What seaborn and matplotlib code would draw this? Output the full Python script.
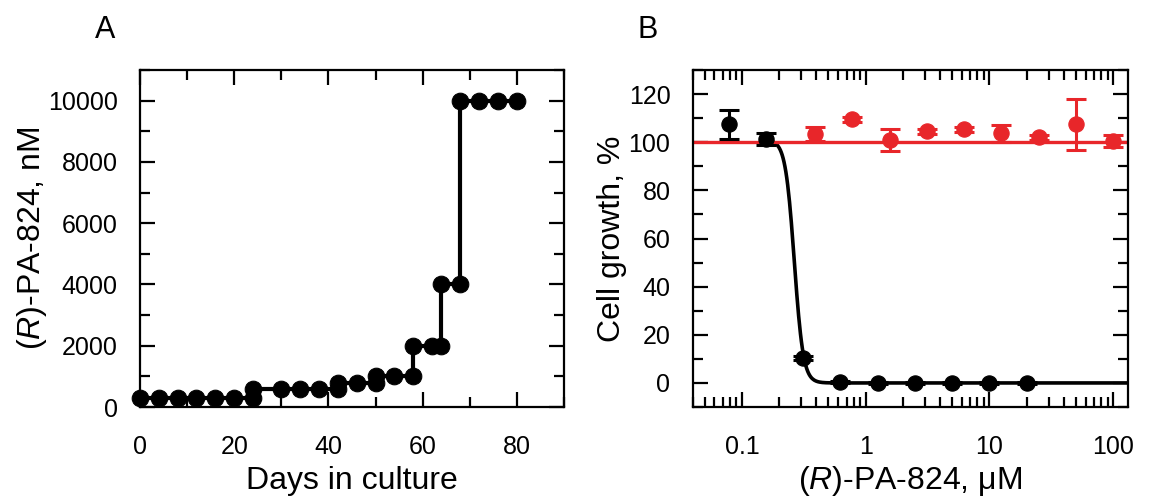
import numpy as np
import pandas as pd
import seaborn as sns
import matplotlib.pyplot as plt
from matplotlib.ticker import MultipleLocator, LogLocator, NullFormatter, FixedLocator, FixedFormatter

# panel A: dose escalation
days = [0, 4, 8, 12, 16, 20, 24, 24, 30, 34, 38, 42, 42, 46, 50, 50, 54, 58, 58, 62, 64, 64, 68, 68, 72, 76, 80]
conc_nm = [300, 300, 300, 300, 300, 300, 300, 600, 600, 600, 600, 600, 800, 800, 800, 1000, 1000, 1000, 2000,
           2000, 2000, 4000, 4000, 10000, 10000, 10000, 10000]

# panel B: black (parent strain) points
black_x = [0.078, 0.156, 0.3125, 0.625, 1.25, 2.5, 5, 10, 20]
black_y = [107.5, 101.5, 10.4, 0.5, 0, 0, 0, 0, 0]
black_err = [6, 2.5, 1, 0.5, 0.5, 0.5, 0.5, 0.5, 0.5]
# panel B: red (resistant strain) points
red_x = [0.39, 0.78, 1.5625, 3.125, 6.25, 12.5, 25, 50, 100]
red_y = [103.5, 109.5, 101, 104.6, 105.4, 103.8, 102.1, 107.4, 100.7]
red_err = [3, 1, 4.5, 1, 1, 3.5, 1, 10.7, 2.5]
# fitted Hill curve parameters
fit_top = 101.0
fit_ic50 = 0.265
fit_hill = 12.0
red_level = 100.0

sns.set_theme(style="ticks")
plt.rcParams['font.family'] = ['Liberation Sans', 'DejaVu Sans']
plt.rcParams['mathtext.fontset'] = 'custom'
plt.rcParams['mathtext.rm'] = 'Liberation Sans'
plt.rcParams['mathtext.it'] = 'Liberation Sans:italic'
plt.rcParams['text.color'] = 'black'
plt.rcParams['axes.labelcolor'] = 'black'

red = '#e8262a'
fig = plt.figure(figsize=(11.51, 4.98), dpi=100)
axA = fig.add_axes([0.1216, 0.1827, 0.3684, 0.6767])
axB = fig.add_axes([0.6018, 0.1827, 0.378, 0.6767])

dfA = pd.DataFrame({"day": days, "conc": conc_nm})
sns.lineplot(data=dfA, x="day", y="conc", sort=False, estimator=None, color='black', linewidth=3,
             marker='o', markersize=12, markeredgecolor='black', ax=axA, clip_on=False)
axA.set_xlim(0, 90)
axA.set_ylim(0, 11000)
axA.xaxis.set_major_locator(MultipleLocator(20))
axA.xaxis.set_minor_locator(MultipleLocator(10))
axA.yaxis.set_major_locator(MultipleLocator(2000))
axA.yaxis.set_minor_locator(MultipleLocator(1000))
axA.set_xlabel("Days in culture", fontsize=23, va='baseline')
axA.set_ylabel("($\\it{R}$)-PA-824, nM", fontsize=23)
axA.xaxis.set_label_coords(0.5, -0.243)
axA.yaxis.set_label_coords(-0.215, 0.5)

# panel B
curve_x = np.logspace(np.log10(0.156), np.log10(135), 400)
curve_y = fit_top / (1 + (curve_x / fit_ic50) ** fit_hill)
sns.lineplot(x=curve_x, y=curve_y, color='black', linewidth=2.6, ax=axB, sort=False, estimator=None)
sns.lineplot(x=[0.03, 200], y=[red_level, red_level], color=red, linewidth=2.4, ax=axB, estimator=None)
axB.errorbar(black_x, black_y, yerr=black_err, fmt='none', ecolor='black', elinewidth=2.2, capsize=7, capthick=2.2)
axB.errorbar(red_x, red_y, yerr=red_err, fmt='none', ecolor=red, elinewidth=2.2, capsize=7, capthick=2.2,
             clip_on=False)
sns.scatterplot(x=black_x, y=black_y, color='black', s=120, edgecolor='black', ax=axB, zorder=5)
sns.scatterplot(x=red_x, y=red_y, color=red, s=120, edgecolor=red, ax=axB, zorder=5, clip_on=False)
axB.set_xscale('log')
axB.set_xlim(0.04, 131)
axB.set_ylim(-10, 130)
axB.xaxis.set_major_locator(FixedLocator([0.1, 1, 10, 100]))
axB.xaxis.set_major_formatter(FixedFormatter(['0.1', '1', '10', '100']))
axB.xaxis.set_minor_locator(LogLocator(base=10, subs=np.arange(2, 10)))
axB.xaxis.set_minor_formatter(NullFormatter())
axB.yaxis.set_major_locator(MultipleLocator(20))
axB.yaxis.set_minor_locator(MultipleLocator(10))
axB.set_xlabel("($\\it{R}$)-PA-824, μM", fontsize=23, va='baseline')
axB.set_ylabel("Cell growth, %", fontsize=23)
axB.xaxis.set_label_coords(0.5, -0.243)
axB.yaxis.set_label_coords(-0.152, 0.5)

for ax in (axA, axB):
    for s in ax.spines.values():
        s.set_visible(True)
        s.set_linewidth(1.6)
        s.set_color('black')
    ax.tick_params(which='both', direction='in', top=True, right=True, width=1.6, color='black',
                   labelsize=18, labelcolor='black')
    ax.tick_params(axis='x', which='both', pad=20)
    ax.tick_params(axis='y', which='both', pad=16)
    ax.tick_params(which='major', length=11)
    ax.tick_params(which='minor', length=7)

fig.text(0.091, 0.94, "A", fontsize=22, ha='center', va='center')
fig.text(0.563, 0.94, "B", fontsize=22, ha='center', va='center')

fig.savefig("out.png", dpi=100)
